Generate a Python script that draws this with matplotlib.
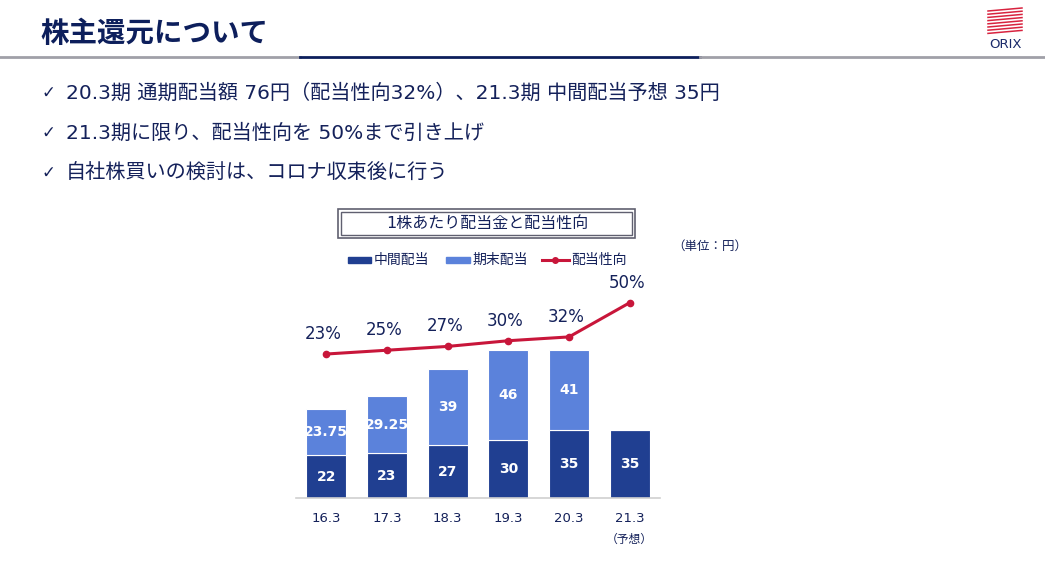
import matplotlib
matplotlib.use("Agg")
import matplotlib.pyplot as plt
from matplotlib.patches import Rectangle
from matplotlib.lines import Line2D

# DejaVu (Verdana-like) for Latin, Noto CJK for Japanese
plt.rcParams['font.family'] = ['DejaVu Sans', 'Noto Sans CJK JP']

# data
years = ["16.3", "17.3", "18.3", "19.3", "20.3", "21.3"]
interim = [22, 23, 27, 30, 35, 35]
year_end = [23.75, 29.25, 39, 46, 41, 0]
payout = [23, 25, 27, 30, 32, 50]
bullets = [
    "20.3期 通期配当額 76円（配当性向32%）、21.3期 中間配当予想 35円",
    "21.3期に限り、配当性向を 50%まで引き上げ",
    "自社株買いの検討は、コロナ収束後に行う",
]

navy = "#14215a"
dark_bar = "#203f91"
light_bar = "#5b82db"
red = "#c8163a"

W, H = 1045, 568
fig = plt.figure(figsize=(W / 100, H / 100), dpi=100)

def fx(px):
    return px / W

def fy(py):
    return 1 - py / H

# header
fig.text(fx(40), fy(34), "株主還元について", fontsize=20.5, fontweight="bold",
         color="#0d1f5c", va="center", ha="left")
fig.add_artist(Line2D([0, fx(300)], [fy(57)] * 2, color="#a0a0a8", lw=2))
fig.add_artist(Line2D([fx(300), fx(700)], [fy(57)] * 2, color="#0d1f5c", lw=2))
fig.add_artist(Line2D([fx(700), 1], [fy(57)] * 2, color="#a0a0a8", lw=2))

# logo
for i in range(8):
    y0 = 8 + i * 3.2
    fig.add_artist(Line2D([fx(988), fx(1022)], [fy(y0 + 3), fy(y0)],
                          color="#d8233f", lw=1.1))
fig.text(fx(1005), fy(44), "ORIX", fontsize=9.5, color="#1a2a6a",
         ha="center", va="center", family=["Liberation Sans Narrow", "DejaVu Sans"])

# bullet points
for i, t in enumerate(bullets):
    y = 93 + i * 40
    fig.text(fx(42), fy(y), "✓", fontsize=12, color=navy, va="center")
    fig.text(fx(66), fy(y), t, fontsize=14.5, color=navy, va="center")

# chart title box
fig.add_artist(Rectangle((fx(338), fy(238)), fx(297), 29 / H, fill=False,
                         ec="#606070", lw=1.2))
fig.add_artist(Rectangle((fx(341), fy(235)), fx(291), 23 / H, fill=False,
                         ec="#606070", lw=1.0))
fig.text(fx(487), fy(223), "1株あたり配当金と配当性向", fontsize=11.5,
         color=navy, ha="center", va="center")
fig.text(fx(710), fy(246), "（単位：円）", fontsize=9, color=navy,
         ha="center", va="center")

# legend
ly = 260
fig.add_artist(Rectangle((fx(348), fy(ly + 3)), fx(23), 6 / H, color=dark_bar))
fig.text(fx(374), fy(ly), "中間配当", fontsize=10, color=navy, va="center")
fig.add_artist(Rectangle((fx(446), fy(ly + 3)), fx(24), 6 / H, color=light_bar))
fig.text(fx(472), fy(ly), "期末配当", fontsize=10, color=navy, va="center")
fig.add_artist(Line2D([fx(542), fx(569)], [fy(ly)] * 2, color=red, lw=2.2))
fig.add_artist(Line2D([fx(555)], [fy(ly)], color=red, marker="o", ms=4))
fig.text(fx(571), fy(ly), "配当性向", fontsize=10, color=navy, va="center")

# bar chart
ax = fig.add_axes([fx(296), fy(498), fx(364), 208 / H])
x = range(len(years))
ax.bar(x, interim, width=0.66, color=dark_bar, edgecolor="white", linewidth=0.8)
ax.bar(x, year_end, width=0.66, bottom=interim, color=light_bar,
       edgecolor="white", linewidth=0.8)
ax.set_xlim(-0.5, len(years) - 0.5)
ax.set_ylim(0, 106.7)
for i in x:
    ax.text(i, interim[i] / 2, f"{interim[i]:g}", color="white", fontsize=10,
            fontweight="semibold", ha="center", va="center")
    if year_end[i] > 0:
        ax.text(i, interim[i] + year_end[i] / 2, f"{year_end[i]:g}",
                color="white", fontsize=10, fontweight="semibold",
                ha="center", va="center")
for s in ["top", "right", "left"]:
    ax.spines[s].set_visible(False)
ax.spines["bottom"].set_color("#d0d0d0")
ax.spines["bottom"].set_linewidth(1.2)
ax.set_yticks([])
ax.set_xticks(list(x))
ax.set_xticklabels(years, fontsize=9.5, color=navy)
ax.tick_params(axis="x", length=0, pad=10)
ax.text(5, -0.2, "（予想）", transform=ax.get_xaxis_transform(),
        fontsize=8.5, color=navy, ha="center", va="center")

# payout ratio line
ax2 = ax.twinx()
ax2.set_ylim(-52.8, 56.7)
ax2.plot(list(x), payout, color=red, lw=2.2, marker="o", ms=4.5)
for i in x:
    ax2.annotate(f"{payout[i]}%", (i, payout[i]), xytext=(-3, 20),
                 textcoords="offset pixels", ha="center", va="center",
                 fontsize=12, color=navy)
ax2.axis("off")

fig.savefig("out.png", dpi=100)
